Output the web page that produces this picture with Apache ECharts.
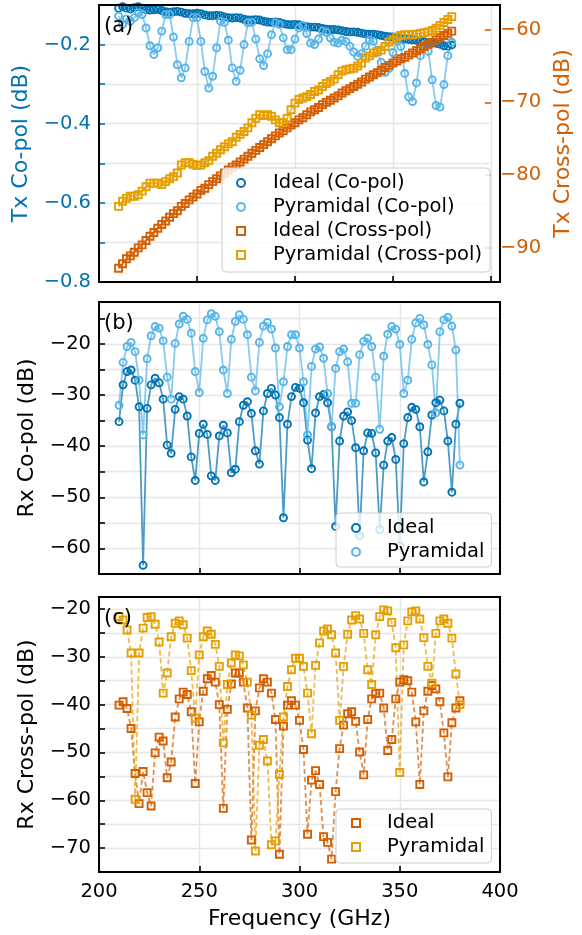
<!DOCTYPE html>
<html>
<head>
<meta charset="utf-8">
<title>Tx / Rx co- and cross-pol</title>
<script src="https://cdn.jsdelivr.net/npm/echarts@6/dist/echarts.min.js"></script>
<style>
  html, body { margin: 0; padding: 0; background: #fff; }
  #chart { width: 582px; height: 935px; }
</style>
</head>
<body>
<div id="chart"></div>
<script>
// frequency points (GHz)
const freq = [
  210, 212, 214, 216, 218, 220, 222, 224, 226, 228,
  230, 232, 234, 236, 238, 240, 242, 244, 246, 248,
  250, 252, 254, 256, 258, 260, 262, 264, 266, 268,
  270, 272, 274, 276, 278, 280, 282, 284, 286, 288,
  290, 292, 294, 296, 298, 300, 302, 304, 306, 308,
  310, 312, 314, 316, 318, 320, 322, 324, 326, 328,
  330, 332, 334, 336, 338, 340, 342, 344, 346, 348,
  350, 352, 354, 356, 358, 360, 362, 364, 366, 368,
  370, 372, 374, 376, 378, 380
]

// (a) Tx co-pol (left axis, dB)
const txIdealCo = [
  -0.108, -0.104, -0.108, -0.110, -0.107, -0.104, -0.108, -0.112, -0.113, -0.112,
  -0.111, -0.114, -0.117, -0.118, -0.117, -0.116, -0.118, -0.121, -0.122, -0.122,
  -0.121, -0.122, -0.125, -0.127, -0.127, -0.126, -0.127, -0.130, -0.132, -0.133,
  -0.132, -0.133, -0.136, -0.138, -0.138, -0.137, -0.138, -0.141, -0.143, -0.144,
  -0.143, -0.144, -0.147, -0.149, -0.150, -0.149, -0.150, -0.153, -0.155, -0.156,
  -0.156, -0.157, -0.159, -0.161, -0.162, -0.162, -0.163, -0.165, -0.167, -0.168,
  -0.168, -0.169, -0.171, -0.173, -0.174, -0.174, -0.175, -0.177, -0.179, -0.180,
  -0.181, -0.182, -0.184, -0.186, -0.187, -0.188, -0.189, -0.191, -0.193, -0.195,
  -0.196, -0.197, -0.199, -0.203, -0.204, -0.201
]
const txPyrCo = [
  -0.128, -0.149, -0.135, -0.141, -0.132, -0.120, -0.124, -0.158, -0.203, -0.225,
  -0.208, -0.166, -0.124, -0.124, -0.181, -0.251, -0.284, -0.259, -0.192, -0.132,
  -0.132, -0.192, -0.268, -0.310, -0.280, -0.208, -0.141, -0.144, -0.189, -0.259,
  -0.293, -0.265, -0.200, -0.145, -0.144, -0.186, -0.236, -0.253, -0.223, -0.175,
  -0.145, -0.149, -0.183, -0.213, -0.213, -0.186, -0.158, -0.152, -0.172, -0.196,
  -0.200, -0.186, -0.166, -0.169, -0.183, -0.194, -0.196, -0.189, -0.192, -0.204,
  -0.219, -0.230, -0.223, -0.204, -0.189, -0.192, -0.215, -0.245, -0.270, -0.260,
  -0.220, -0.190, -0.205, -0.273, -0.332, -0.344, -0.297, -0.228, -0.200, -0.217,
  -0.289, -0.354, -0.358, -0.301, -0.228, -0.194
]
// (a) Tx cross-pol (right axis, dB)
const txIdealCross = [
  -92.8, -92.2, -91.5, -91.1, -90.6, -90.0, -89.6, -89.0, -88.4, -87.9,
  -87.3, -86.8, -86.3, -85.8, -85.3, -84.9, -84.3, -83.9, -83.4, -83.0,
  -82.6, -82.1, -81.8, -81.3, -80.9, -80.5, -80.1, -79.7, -79.3, -78.9,
  -78.6, -78.2, -77.8, -77.4, -77.0, -76.6, -76.2, -75.8, -75.4, -75.0,
  -74.6, -74.2, -73.9, -73.5, -73.1, -72.8, -72.4, -72.1, -71.7, -71.3,
  -71.0, -70.7, -70.3, -70.0, -69.7, -69.4, -69.1, -68.7, -68.4, -68.1,
  -67.8, -67.5, -67.2, -66.8, -66.5, -66.2, -65.9, -65.6, -65.2, -64.9,
  -64.6, -64.3, -64.0, -63.8, -63.5, -63.2, -62.9, -62.6, -62.3, -62.0,
  -61.7, -61.4, -61.1, -60.8, -60.5, -60.2
]
const txPyrCross = [
  -84.3, -83.6, -83.2, -82.9, -82.9, -82.7, -82.2, -81.6, -81.1, -81.1,
  -81.1, -81.3, -80.9, -80.5, -80.2, -79.7, -78.6, -78.3, -78.3, -78.5,
  -78.7, -78.6, -78.3, -78.0, -77.4, -77.0, -76.5, -76.1, -75.7, -75.4,
  -74.8, -74.4, -74.0, -73.5, -72.8, -72.2, -71.7, -71.8, -71.7, -71.9,
  -72.4, -72.8, -72.8, -72.2, -71.0, -70.1, -69.6, -69.4, -69.2, -68.9,
  -68.5, -68.3, -67.8, -67.4, -67.1, -66.8, -66.2, -65.7, -65.5, -65.4,
  -65.3, -65.0, -64.6, -63.9, -63.6, -63.2, -63.0, -62.8, -62.3, -61.7,
  -61.4, -61.0, -60.8, -60.7, -60.7, -60.7, -60.6, -60.5, -60.4, -60.3,
  -60.1, -59.8, -59.4, -59.0, -58.6, -58.2
]

// (b) Rx co-pol (dB)
const rxIdealCo = [
  -35.2, -28.0, -25.4, -25.1, -27.1, -32.3, -63.3, -32.6, -28.0, -26.7,
  -27.6, -30.8, -39.8, -41.4, -32.8, -30.3, -30.8, -34.1, -42.1, -46.7,
  -37.5, -35.7, -37.7, -45.8, -46.7, -38.0, -35.9, -37.4, -45.2, -44.5,
  -35.2, -32.0, -31.3, -33.6, -40.9, -43.5, -33.1, -29.7, -28.7, -30.0,
  -34.4, -54.0, -35.7, -30.3, -28.5, -28.7, -31.5, -38.8, -44.4, -33.5,
  -30.3, -29.9, -31.5, -36.2, -55.7, -39.0, -34.1, -33.3, -35.0, -40.3,
  -57.5, -40.9, -37.4, -37.5, -41.3, -56.3, -43.7, -39.0, -38.3, -42.6,
  -59.5, -39.5, -34.4, -32.4, -32.8, -36.2, -47.0, -41.1, -33.9, -31.5,
  -31.0, -33.1, -39.0, -49.0, -35.7, -31.6
]
const rxPyrCo = [
  -32.0, -23.6, -20.5, -19.7, -21.5, -27.1, -37.8, -22.9, -18.4, -16.6,
  -16.9, -19.4, -26.5, -30.8, -19.9, -16.1, -14.6, -15.2, -17.9, -25.4,
  -29.5, -18.9, -15.3, -14.1, -14.6, -17.6, -25.1, -29.7, -19.1, -15.6,
  -14.3, -15.2, -18.2, -26.5, -29.2, -19.7, -16.5, -15.8, -17.1, -20.8,
  -32.3, -27.4, -20.5, -18.2, -18.2, -20.8, -27.4, -37.8, -24.4, -21.0,
  -20.6, -22.8, -29.7, -36.2, -24.8, -21.5, -21.0, -23.5, -31.6, -31.6,
  -22.1, -19.5, -18.9, -20.5, -26.5, -36.7, -22.4, -18.1, -16.6, -17.1,
  -20.1, -29.7, -27.1, -19.1, -15.9, -15.0, -16.3, -20.1, -24.1, -33.5,
  -17.6, -15.3, -14.8, -16.5, -21.2, -43.7
]

// (c) Rx cross-pol (dB)
const rxIdealCross = [
  -40.1, -39.4, -40.8, -45.0, -54.4, -60.7, -54.0, -58.4, -61.2, -50.1,
  -46.8, -47.6, -55.3, -52.0, -42.6, -38.8, -37.4, -37.9, -41.5, -56.5,
  -43.6, -37.2, -34.6, -33.9, -35.3, -40.0, -61.7, -41.0, -35.7, -33.4,
  -33.4, -35.3, -40.7, -68.3, -41.3, -36.5, -34.6, -35.3, -37.6, -43.1,
  -71.3, -44.5, -40.1, -39.2, -40.1, -43.3, -49.4, -67.1, -55.8, -53.8,
  -56.7, -67.6, -68.8, -72.3, -58.2, -49.2, -44.3, -41.9, -41.5, -43.5,
  -49.9, -54.7, -43.1, -38.8, -37.7, -37.6, -40.7, -49.6, -47.3, -38.8,
  -35.3, -34.8, -35.0, -37.4, -43.6, -56.7, -41.3, -37.2, -36.0, -36.7,
  -39.4, -45.9, -55.1, -43.8, -40.7, -39.2
]
const rxPyrCross = [
  -21.6, -22.3, -24.4, -29.2, -59.8, -29.2, -24.0, -21.8, -21.6, -23.2,
  -26.9, -37.6, -33.4, -25.8, -23.0, -22.5, -23.3, -26.1, -32.9, -42.8,
  -29.6, -25.8, -24.6, -25.3, -27.4, -32.0, -48.0, -35.8, -31.3, -29.6,
  -29.8, -31.7, -35.3, -42.2, -70.6, -48.5, -47.3, -51.8, -69.3, -68.5,
  -54.6, -42.6, -36.2, -32.7, -30.3, -30.3, -32.0, -37.6, -46.1, -31.8,
  -27.1, -24.6, -24.2, -25.4, -29.2, -43.3, -32.0, -25.3, -22.3, -21.4,
  -22.1, -25.1, -32.7, -35.8, -25.4, -21.6, -20.2, -20.4, -22.8, -28.1,
  -54.2, -27.5, -22.5, -20.6, -20.4, -22.1, -26.0, -32.0, -35.5, -25.1,
  -22.5, -22.1, -23.0, -26.1, -33.6, -40.0
]

// tick labels
const xTicks = [200, 250, 300, 350, 400]
const txCoTicks = [-0.8, -0.6, -0.4, -0.2]
const txCrossTicks = [-90, -80, -70, -60]
const rxCoTicks = [-60, -50, -40, -30, -20]
const rxCrossTicks = [-70, -60, -50, -40, -30, -20]

const BLUE = '#0072B2'
const SKY = '#56B4E9'
const VERM = '#D55E00'
const ORANGE = '#E69F00'
const FONT = 'DejaVu Sans'

// panel boxes (px)
const panels = [
  { left: 99, top: 5, width: 401, height: 277 },
  { left: 99, top: 302, width: 401, height: 272 },
  { left: 99, top: 597, width: 401, height: 275 }
]

function gridLine () {
  return { show: true, lineStyle: { color: '#e6e6e6', width: 1.4 } }
}
function ticks (color) {
  return { inside: true, length: 6, lineStyle: { color: color, width: 1.6 } }
}
function minus (v) {
  return String(v).replace('-', '\u2212')
}
function pickLabel (list, digits) {
  return function (v) {
    for (let t of list) {
      if (Math.abs(v - t) < 1e-6) return minus(t.toFixed(digits))
    }
    return ''
  }
}
function pairs (ys) {
  return freq.map((f, i) => [f, ys[i]])
}
function series (name, ys, color, symbol, xi, yi, dashed) {
  return {
    name: name,
    type: 'line',
    xAxisIndex: xi,
    yAxisIndex: yi,
    data: pairs(ys),
    symbol: symbol,
    symbolSize: 7,
    itemStyle: { color: 'rgba(255,255,255,0)', borderColor: color, borderWidth: 1.9 },
    lineStyle: { color: color, width: 1.8, opacity: 0.7, type: dashed ? [5, 3] : 'solid' },
    emphasis: { disabled: true }
  }
}
function xAxis (k) {
  return {
    gridIndex: k,
    type: 'value',
    min: xTicks[0],
    max: xTicks[xTicks.length - 1],
    interval: xTicks[1] - xTicks[0],
    axisLine: { show: false },
    axisTick: ticks('#000'),
    axisLabel: { show: k === 2, color: '#000', fontSize: 19.5, fontFamily: FONT, margin: 10 },
    splitLine: gridLine(),
    name: k === 2 ? 'Frequency (GHz)' : '',
    nameLocation: 'middle',
    nameGap: 36,
    nameTextStyle: { color: '#000', fontSize: 22, fontFamily: FONT }
  }
}
function yAxis (k, min, max, labels, color, name, gap) {
  return {
    gridIndex: k,
    type: 'value',
    position: 'left',
    min: min,
    max: max,
    interval: k === 0 ? 0.1 : 5,
    axisLine: { show: false },
    axisTick: ticks(color),
    axisLabel: { color: color, fontSize: 19.5, fontFamily: FONT, margin: 8, formatter: pickLabel(labels, k === 0 ? 1 : 0) },
    splitLine: gridLine(),
    name: name,
    nameLocation: 'middle',
    nameGap: gap,
    nameTextStyle: { color: color, fontSize: 22, fontFamily: FONT }
  }
}
function legend (left, top, names, icons, pad, textPad, gap, strip) {
  return {
    orient: 'vertical',
    left: left,
    top: top,
    data: names.map((n, i) => ({ name: n, icon: icons[i] })),
    itemWidth: 8,
    itemHeight: 8,
    itemGap: gap,
    padding: pad,
    selectedMode: false,
    backgroundColor: 'rgba(255,255,255,0.8)',
    borderColor: '#cccccc',
    borderWidth: 1,
    borderRadius: 4,
    formatter: n => strip ? n.split('#')[0] : n,
    textStyle: { color: '#000', fontSize: 19.5, fontFamily: FONT, lineHeight: 20, padding: [0, 0, 0, textPad] }
  }
}
// black frame round each panel
function frame (p) {
  return {
    type: 'rect',
    zlevel: 1,
    z: 100,
    silent: true,
    shape: { x: p.left, y: p.top, width: p.width, height: p.height },
    style: { fill: 'none', stroke: '#000', lineWidth: 2 }
  }
}
function panelLabel (p, text) {
  return { type: 'text', zlevel: 1, z: 100, left: p.left + 5, top: p.top + 11, style: { text: text, fontSize: 21, fontFamily: FONT, fill: '#000' } }
}

const option = {
  animation: false,
  backgroundColor: '#fff',
  grid: panels.map(p => Object.assign({}, p)),
  xAxis: [xAxis(0), xAxis(1), xAxis(2)],
  yAxis: [
    yAxis(0, -0.8, -0.1, txCoTicks, BLUE, 'Tx Co-pol (dB)', 66),
    // (a) right axis, cross-pol
    {
      gridIndex: 0, type: 'value', position: 'right', min: -94.7, max: -56.6, splitNumber: 4,
      axisLine: { show: false },
      axisTick: ticks(VERM),
      axisLabel: { color: VERM, fontSize: 19.5, fontFamily: FONT, margin: 9, formatter: pickLabel(txCrossTicks, 0) },
      splitLine: { show: false },
      name: 'Tx Cross-pol (dB)',
      nameLocation: 'middle',
      nameGap: 60,
      nameTextStyle: { color: VERM, fontSize: 22, fontFamily: FONT }
    },
    yAxis(1, -65, -11.8, rxCoTicks, '#000', 'Rx Co-pol (dB)', 61),
    yAxis(2, -75, -17.5, rxCrossTicks, '#000', 'Rx Cross-pol (dB)', 61)
  ],
  legend: [
    legend(222, 168, ['Ideal (Co-pol)', 'Pyramidal (Co-pol)', 'Ideal (Cross-pol)', 'Pyramidal (Cross-pol)'],
      ['circle', 'circle', 'rect', 'rect'], [5, 8, 7, 14], 23, 4, false),
    legend(336, 513, ['Ideal#b', 'Pyramidal#b'], ['circle', 'circle'], [5, 7, 5, 15], 22, 4, true),
    legend(336, 809, ['Ideal#c', 'Pyramidal#c'], ['rect', 'rect'], [4, 7, 6, 15], 22, 4, true)
  ],
  graphic: [
    frame(panels[0]), frame(panels[1]), frame(panels[2]),
    panelLabel(panels[0], '(a)'), panelLabel(panels[1], '(b)'), panelLabel(panels[2], '(c)')
  ],
  series: [
    series('Ideal (Co-pol)', txIdealCo, BLUE, 'circle', 0, 0, false),
    series('Pyramidal (Co-pol)', txPyrCo, SKY, 'circle', 0, 0, false),
    series('Ideal (Cross-pol)', txIdealCross, VERM, 'rect', 0, 1, false),
    series('Pyramidal (Cross-pol)', txPyrCross, ORANGE, 'rect', 0, 1, false),
    series('Ideal#b', rxIdealCo, BLUE, 'circle', 1, 2, false),
    series('Pyramidal#b', rxPyrCo, SKY, 'circle', 1, 2, false),
    series('Ideal#c', rxIdealCross, VERM, 'rect', 2, 3, true),
    series('Pyramidal#c', rxPyrCross, ORANGE, 'rect', 2, 3, true)
  ]
}

const chart = echarts.init(document.getElementById('chart'), null, { renderer: 'canvas' })
chart.setOption(option)
</script>
</body>
</html>
